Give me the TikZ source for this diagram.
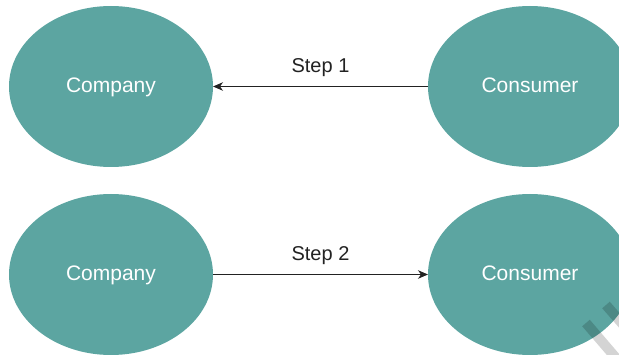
\documentclass[tikz,border=0pt]{standalone}
\usepackage{fontspec}
\setmainfont{Liberation Sans}
\usetikzlibrary{shapes.geometric,arrows.meta}
\definecolor{partyfill}{HTML}{5CA5A1}
\definecolor{inkline}{HTML}{222222}
\begin{document}
\begin{tikzpicture}[x=1pt,y=-1pt,
  party/.style={ellipse, fill=partyfill, minimum width=204pt, minimum height=161pt,
    inner sep=0pt, outer sep=0pt, text=white, text height=15pt, text depth=2.5pt,
    font=\fontsize{21}{25}\selectfont},
  flow/.style={draw=inkline, line width=0.9pt,
    -{Stealth[length=10pt,width=8.5pt,inset=3pt]}},
  steplabel/.style={font=\fontsize{20}{24}\selectfont, text=inkline,
    anchor=base, yshift=14pt},
  stamp/.style={black, opacity=0.17, line width=10pt}]
\useasboundingbox (0,0) rectangle (619,355);

% first exchange: consumer to company
\node[party] (comp1) at (111,86.5) {Company};
\node[party] (cons1) at (530,86.5) {Consumer};
\draw[flow] (cons1) -- node[steplabel] {Step 1} (comp1);

% second exchange: company to consumer
\node[party] (comp2) at (111,274.5) {Company};
\node[party] (cons2) at (530,274.5) {Consumer};
\draw[flow] (comp2) -- node[steplabel] {Step 2} (cons2);

% faint grey strokes in the lower right corner
\begin{scope}
  \clip (0,0) rectangle (619,355);
  \draw[stamp] (586,323) -- (616,358);
  \draw[stamp] (606,305) -- (626,328);
\end{scope}
\end{tikzpicture}
\end{document}
